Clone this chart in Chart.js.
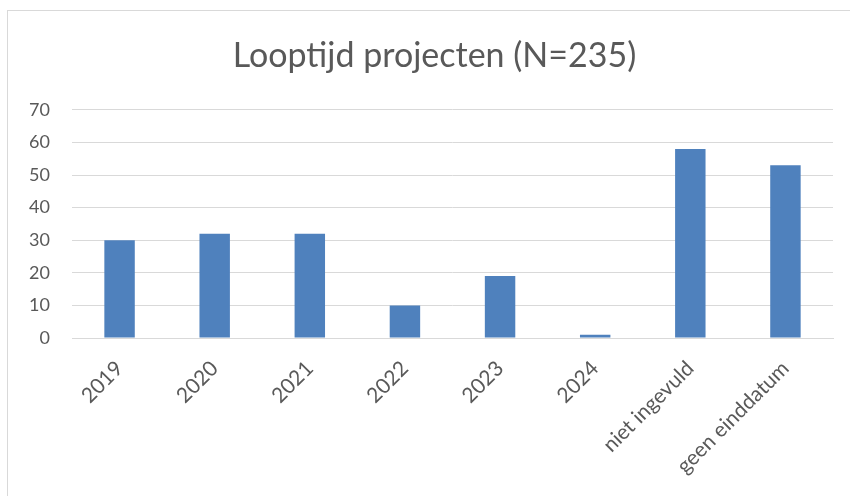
<!DOCTYPE html>
<html>
<head>
<meta charset="utf-8">
<script src="https://cdn.jsdelivr.net/npm/chart.js@4"></script>
<style>
    body { margin: 0; background: #fff; }
    #wrap { width: 850px; height: 496px; }
</style>
</head>
<body>
<div id="wrap"><canvas id="looptijdChart" width="850" height="496"></canvas></div>
<script>
    // data
    const categories = ['2019', '2020', '2021', '2022', '2023', '2024', 'niet ingevuld', 'geen einddatum'];
    const projectCounts = [30, 32, 32, 10, 19, 1, 58, 53];
    const yTicks = [0, 10, 20, 30, 40, 50, 60, 70];
    const chartTitle = 'Looptijd projecten (N=235)';

    const textColor = '#595959';
    const fontFamily = 'Lato, "Open Sans", sans-serif';

    // light frame around the chart, like the office chart border
    const frame = {
        id: 'frame',
        beforeDraw(chart) {
            const c = chart.ctx;
            c.save();
            c.fillStyle = '#fff';
            c.fillRect(0, 0, chart.width, chart.height);
            c.strokeStyle = '#d9d9d9';
            c.lineWidth = 1;
            c.strokeRect(7.5, 10.5, 900, 600);
            c.restore();
        },
        // the original title sits a bit right of the canvas centre
        afterLayout(chart) {
            if (chart.titleBlock) {
                chart.titleBlock.left += 28;
            }
        }
    };

    const ctx = document.getElementById('looptijdChart').getContext('2d');
    new Chart(ctx, {
        type: 'bar',
        data: {
            labels: categories,
            datasets: [{
                label: 'Projecten',
                data: projectCounts,
                backgroundColor: '#4f81bd',
                barPercentage: 0.32,
                categoryPercentage: 1
            }]
        },
        options: {
            responsive: false,
            animation: false,
            layout: { padding: { top: 20, left: 8, right: 17, bottom: 0 } },
            scales: {
                y: {
                    min: 0,
                    max: 70,
                    afterBuildTicks: (axis) => { axis.ticks = yTicks.map(v => ({ value: v })) },
                    afterFit: (axis) => { axis.width = 64 },
                    border: { display: false },
                    grid: { color: '#d9d9d9', drawTicks: false, lineWidth: 1 },
                    ticks: { color: textColor, padding: 22, font: { family: fontFamily, size: 18 } }
                },
                x: {
                    afterFit: (axis) => { axis.height = 158 },
                    border: { color: '#d9d9d9' },
                    grid: { display: false, drawTicks: false },
                    ticks: {
                        color: textColor,
                        minRotation: 45,
                        maxRotation: 45,
                        autoSkip: false,
                        padding: 18,
                        labelOffset: 0,
                        font: { family: fontFamily, size: 21 }
                    }
                }
            },
            plugins: {
                legend: { display: false },
                tooltip: { enabled: false },
                title: {
                    display: true,
                    text: chartTitle,
                    color: textColor,
                    padding: { top: 16, bottom: 33 },
                    font: { family: fontFamily, size: 34, weight: 'normal' }
                }
            }
        },
        plugins: [frame]
    });
</script>
</body>
</html>
